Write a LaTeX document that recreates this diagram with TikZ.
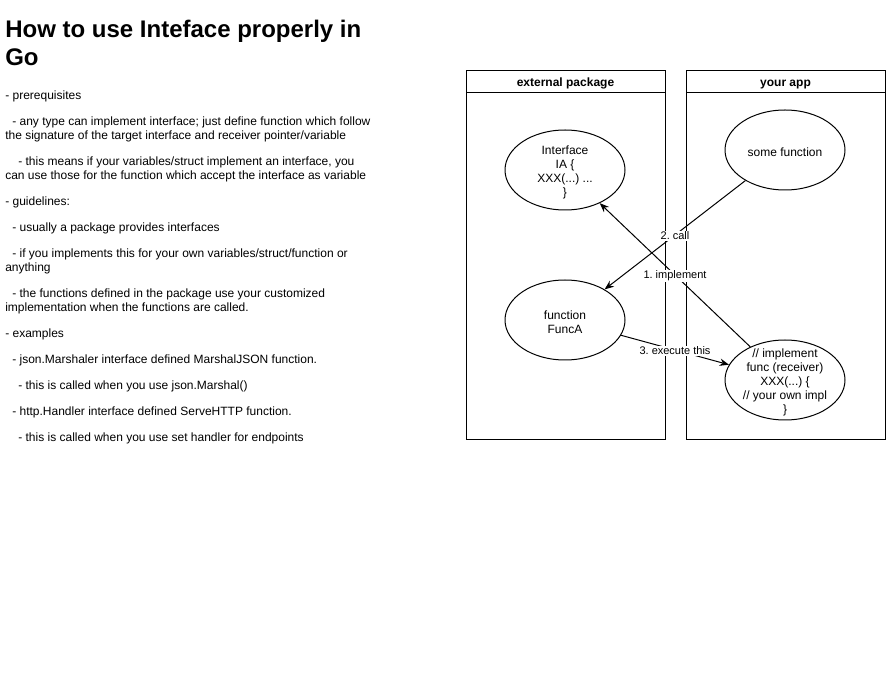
\documentclass[tikz,border=0pt]{standalone}
\usepackage{fontspec}
\setmainfont{Liberation Sans}
\usetikzlibrary{arrows.meta,shapes.geometric}
\frenchspacing
\tikzset{
  body/.style={anchor=base west,inner sep=0pt,font=\fontsize{9pt}{10.5pt}\selectfont},
  ttl/.style={anchor=base west,inner sep=0pt,font=\fontsize{18pt}{21pt}\selectfont\bfseries},
  lane/.style={draw,line width=0.75pt},
  lanehead/.style={anchor=base,font=\fontsize{9pt}{10.5pt}\selectfont\bfseries,inner sep=0pt},
  ell/.style={draw,ellipse,line width=0.75pt,minimum width=90pt,minimum height=60pt,inner sep=0pt},
  elltext/.style={inner sep=0pt,align=center,font=\fontsize{9pt}{10.5pt}\selectfont},
  conn/.style={line width=0.75pt,-{Stealth[length=7pt,width=5.5pt]}},
  elabel/.style={fill=white,inner sep=1pt,font=\fontsize{8.25pt}{10pt}\selectfont},
}
\begin{document}
\begin{tikzpicture}[x=0.75pt,y=-0.75pt]
\useasboundingbox (0,0) rectangle (886,691);
% title
\node[ttl] (t1) at (5,38) {How to use Inteface properly in};
\node[ttl] (t2) at (5,66) {Go};
% body text
\node[body] (b1) at (5,100) {- prerequisites};
\node[body] (b2) at (12,126) {- any type can implement interface; just define function which follow};
\node[body] (b3) at (5,140) {the signature of the target interface and receiver pointer/variable};
\node[body] (b4) at (18,166) {- this means if your variables/struct implement an interface, you};
\node[body] (b5) at (5,180) {can use those for the function which accept the interface as variable};
\node[body] (b6) at (5,206) {- guidelines:};
\node[body] (b7) at (12,232) {- usually a package provides interfaces};
\node[body] (b8) at (12,258) {- if you implements this for your own variables/struct/function or};
\node[body] (b9) at (5,272) {anything};
\node[body] (b10) at (12,298) {- the functions defined in the package use your customized};
\node[body] (b11) at (5,312) {implementation when the functions are called.};
\node[body] (b12) at (5,338) {- examples};
\node[body] (b13) at (12,364) {- json.Marshaler interface defined MarshalJSON function.};
\node[body] (b14) at (18,390) {- this is called when you use json.Marshal()};
\node[body] (b15) at (12,416) {- http.Handler interface defined ServeHTTP function.};
\node[body] (b16) at (18,442) {- this is called when you use set handler for endpoints};
% swimlanes
\draw[lane] (466,71) rectangle (665,440);
\draw[lane] (466,93) -- (665,93);
\node[lanehead] (h1) at (565.5,87) {external package};
\draw[lane] (686,71) rectangle (885,440);
\draw[lane] (686,93) -- (885,93);
\node[lanehead] (h2) at (785.5,87) {your app};
% ellipses
\node[ell] (iface) at (565,170) {};
\node[elltext] (ifacet) at (565,172) {Interface\\IA \{\\XXX(...) ...\\\}};
\node[ell] (some) at (785,150) {};
\node[elltext] (somet) at (785,152) {some function};
\node[ell] (funca) at (565,320) {};
\node[elltext] (funcat) at (565,322) {function\\FuncA};
\node[ell] (impl) at (785,380) {};
\node[elltext] (implt) at (785,382) {// implement\\func (receiver)\\XXX(...) \{\\// your own impl\\\}};
% connectors
\draw[conn] (impl) -- (iface);
\draw[conn] (some) -- (funca);
\draw[conn] (funca) -- (impl);
\node[elabel] (l2) at (675,236) {2. call};
\node[elabel] (l1) at (675,276) {1. implement};
\node[elabel] (l3) at (675,351) {3. execute this};
\end{tikzpicture}
\end{document}
